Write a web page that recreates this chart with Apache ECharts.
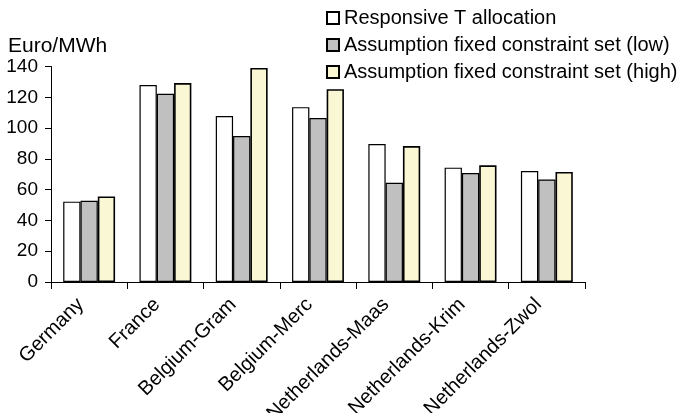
<!DOCTYPE html>
<html>
<head>
<meta charset="utf-8">
<script src="https://cdn.jsdelivr.net/npm/echarts@6/dist/echarts.min.js"></script>
<style>
html,body{margin:0;padding:0;background:#fff;}
#chart{width:685px;height:413px;}
</style>
</head>
<body>
<div id="chart"></div>
<script>
var categories = ["Germany", "France", "Belgium-Gram", "Belgium-Merc", "Netherlands-Maas", "Netherlands-Krim", "Netherlands-Zwol"];
var seriesNames = ["Responsive T allocation", "Assumption fixed constraint set (low)", "Assumption fixed constraint set (high)"];
var responsive = [52.2, 128, 107.8, 113.6, 89.6, 74.3, 72.1];
var fixedLow = [52.8, 122.3, 94.8, 106.5, 64.4, 70.8, 66.6];
var fixedHigh = [55.6, 129.2, 139.1, 125.3, 88.3, 75.8, 71.5];
var yTicks = [0, 20, 40, 60, 80, 100, 120, 140];
var unitLabel = "Euro/MWh";

var FONT = 'Liberation Sans, Arial, sans-serif';
var colors = ['#FFFFFF', '#C0C0C0', '#FAF7D4'];
var values = [responsive, fixedLow, fixedHigh];

var chart = echarts.init(document.getElementById('chart'), null, {renderer: 'canvas'});
chart.setOption({
  animation: false,
  backgroundColor: '#fff',
  title: {
    text: unitLabel,
    left: 8,
    top: 36,
    padding: 0,
    textStyle: {fontFamily: FONT, fontSize: 21, fontWeight: 'normal', color: '#000'}
  },
  legend: {
    orient: 'vertical',
    left: 326,
    top: 8,
    icon: 'rect',
    itemWidth: 12,
    itemHeight: 12,
    itemGap: 7,
    padding: 0,
    textStyle: {fontFamily: FONT, fontSize: 20, color: '#000', lineHeight: 20},
    data: seriesNames
  },
  grid: {left: 51, right: 100, top: 66.5, bottom: 131, containLabel: false, outerBoundsMode: 'none'},
  xAxis: {
    type: 'category',
    data: categories,
    axisLine: {lineStyle: {color: '#000', width: 1}},
    axisTick: {show: true, length: 7, lineStyle: {color: '#000', width: 1}},
    axisLabel: {rotate: 45, margin: 11, padding: [0, 12, 0, 0], fontFamily: FONT, fontSize: 20, color: '#000', interval: 0}
  },
  yAxis: {
    type: 'value',
    min: yTicks[0],
    max: yTicks[yTicks.length - 1],
    interval: yTicks[1] - yTicks[0],
    axisLine: {show: true, lineStyle: {color: '#000', width: 1}},
    axisTick: {show: true, length: 6, lineStyle: {color: '#000', width: 1}},
    splitLine: {show: false},
    axisLabel: {margin: 13, fontFamily: FONT, fontSize: 19, color: '#000'}
  },
  series: seriesNames.map(function (name, i) {
    return {
      name: name,
      type: 'bar',
      data: values[i],
      barGap: '0%',
      barCategoryGap: '32%',
      itemStyle: {color: colors[i], borderColor: '#000', borderWidth: i === 2 ? 1.6 : 1.2}
    };
  })
});
</script>
</body>
</html>
